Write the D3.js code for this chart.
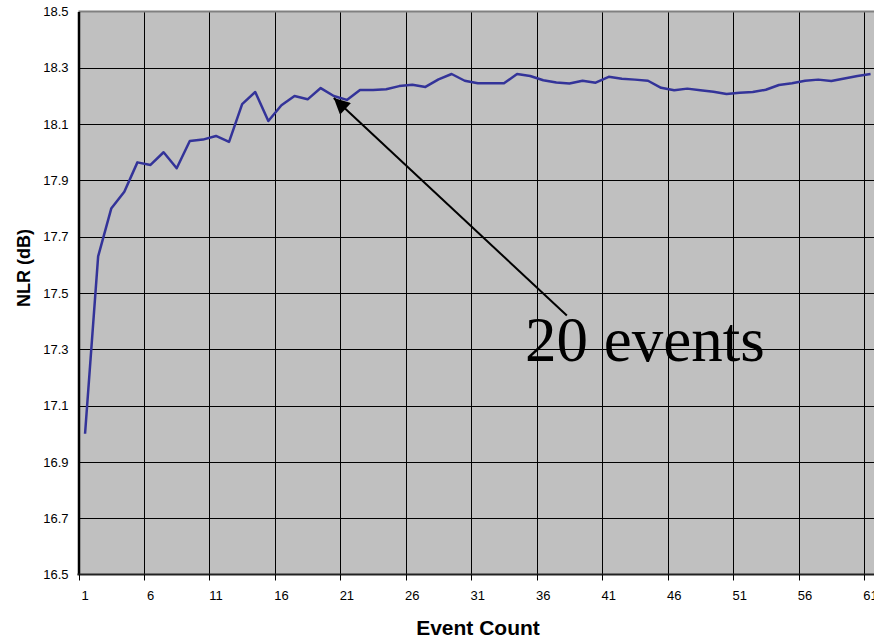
<!DOCTYPE html>
<html lang="en">
<head>
  <meta charset="UTF-8">
  <title>NLR vs Event Count</title>
  <style>
  body { margin: 0; background: #fff; }
  svg { display: block; }
  .tick text { font-family: "Liberation Sans", Arial, sans-serif; font-size: 13px; fill: #000; }
  .title { font-family: "Liberation Sans", Arial, sans-serif; font-weight: bold; fill: #000; }
  .note { font-family: "Liberation Serif", "Times New Roman", serif; font-size: 63px; fill: #000; }
</style>
</head>
<body>
  <script src="https://d3js.org/d3.v7.min.js"></script>
  <script>
// event count 1..61
events = d3.range(1, 62)
nlr = [
  17.00, 17.63, 17.80, 17.86, 17.964, 17.955, 18.00, 17.943, 18.04, 18.045,
  18.058, 18.037, 18.171, 18.214, 18.111, 18.167, 18.20, 18.188, 18.228, 18.20,
  18.186, 18.221, 18.221, 18.224, 18.235, 18.24, 18.232, 18.259, 18.278, 18.254,
  18.245, 18.245, 18.245, 18.278, 18.271, 18.256, 18.248, 18.244, 18.254, 18.247,
  18.268, 18.261, 18.258, 18.254, 18.229, 18.22, 18.226, 18.22, 18.215, 18.207,
  18.211, 18.214, 18.222, 18.239, 18.245, 18.254, 18.258, 18.253, 18.262, 18.271,
  18.278
]
xTickLabels = [1, 6, 11, 16, 21, 26, 31, 36, 41, 46, 51, 56, 61]
yTickLabels = [16.5, 16.7, 16.9, 17.1, 17.3, 17.5, 17.7, 17.9, 18.1, 18.3, 18.5]
note = {text: "20 events", event: 20, value: 18.193, tailEvent: 37.8, tailValue: 17.42}

width = 874
height = 637
margin = ({top: 11.5, left: 78.5, bottom: 574.5})

// categories sit between boundaries (Excel style category axis)
x = d3.scaleLinear()
  .domain([0.5, 61.5])
  .range([margin.left, margin.left + 61 * 13.092])
y = d3.scaleLinear()
  .domain([16.5, 18.5])
  .range([margin.bottom, margin.top])

const svg = d3.select("body").append("svg")
  .attr("width", width)
  .attr("height", height)

svg.append("rect")
  .attr("x", x(0.5)).attr("y", y(18.5))
  .attr("width", x(61.5) - x(0.5))
  .attr("height", y(16.5) - y(18.5))
  .attr("fill", "#c0c0c0")

// grid
svg.append("g")
  .selectAll("line")
  .data(yTickLabels.slice(1, -1))
  .join("line")
    .attr("x1", x(0.5)).attr("x2", x(61.5))
    .attr("y1", d => Math.round(y(d)) + 0.5).attr("y2", d => Math.round(y(d)) + 0.5)
    .attr("stroke", "#000")
svg.append("g")
  .selectAll("line")
  .data(xTickLabels.slice(1))
  .join("line")
    .attr("x1", d => Math.round(x(d - 0.5)) + 0.5).attr("x2", d => Math.round(x(d - 0.5)) + 0.5)
    .attr("y1", y(18.5)).attr("y2", y(16.5))
    .attr("stroke", "#000")

// top border
svg.append("line")
  .attr("x1", x(0.5)).attr("x2", x(61.5))
  .attr("y1", y(18.5)).attr("y2", y(18.5))
  .attr("stroke", "#808080").attr("stroke-width", 2)

// y axis
const yAxis = svg.append("g")
  .attr("transform", `translate(${x(0.5)},0)`)
  .call(d3.axisLeft(y).tickValues(yTickLabels).tickFormat(d3.format(".1f")).tickSize(0).tickPadding(10))
yAxis.select(".domain").attr("stroke", "#000").attr("stroke-width", 2.5)

// x axis: ticks at category boundaries, labels at category centers
const xAxis = svg.append("g")
  .attr("transform", `translate(0,${y(16.5)})`)
xAxis.append("line")
  .attr("x1", x(0.5) - 1).attr("x2", x(61.5))
  .attr("stroke", "#222").attr("stroke-width", 2)
xAxis.selectAll(".tk")
  .data(xTickLabels)
  .join("line")
    .attr("x1", d => Math.round(x(d - 0.5)) + 0.5).attr("x2", d => Math.round(x(d - 0.5)) + 0.5)
    .attr("y1", 0).attr("y2", 6)
    .attr("stroke", "#000")
xAxis.selectAll("text")
  .data(xTickLabels)
  .join("text")
    .attr("class", "tick")
    .attr("x", d => x(d))
    .attr("y", 25)
    .attr("text-anchor", "middle")
    .style("font-family", "'Liberation Sans', Arial, sans-serif")
    .style("font-size", "13px")
    .text(d => d)

// data line
svg.append("path")
  .datum(nlr)
  .attr("fill", "none")
  .attr("stroke", "#333399")
  .attr("stroke-width", 2.5)
  .attr("stroke-linejoin", "round")
  .attr("d", d3.line().x((d, i) => x(events[i])).y(d => y(d)))

// annotation arrow
svg.append("defs").append("marker")
  .attr("id", "head")
  .attr("viewBox", "0 0 10 10")
  .attr("refX", 10).attr("refY", 5)
  .attr("markerWidth", 10).attr("markerHeight", 8)
  .attr("markerUnits", "userSpaceOnUse")
  .attr("orient", "auto")
  .append("path")
    .attr("d", "M0,0L10,5L0,10z")
    .attr("fill", "#000")
svg.append("line")
  .attr("x1", x(note.tailEvent)).attr("y1", y(note.tailValue))
  .attr("x2", x(note.event)).attr("y2", y(note.value))
  .attr("stroke", "#000").attr("stroke-width", 2)
  .attr("marker-end", "url(#head)")
svg.select("marker").attr("markerWidth", 20).attr("markerHeight", 16)

svg.append("text")
  .attr("class", "note")
  .attr("x", 525).attr("y", 361)
  .text(note.text)

// axis titles
svg.append("text")
  .attr("class", "title")
  .attr("transform", "translate(30,268) rotate(-90)")
  .attr("text-anchor", "middle")
  .style("font-size", "18px")
  .text("NLR (dB)")
svg.append("text")
  .attr("class", "title")
  .attr("x", 478).attr("y", 635)
  .attr("text-anchor", "middle")
  .style("font-size", "21px")
  .text("Event Count")
  </script>
</body>
</html>
